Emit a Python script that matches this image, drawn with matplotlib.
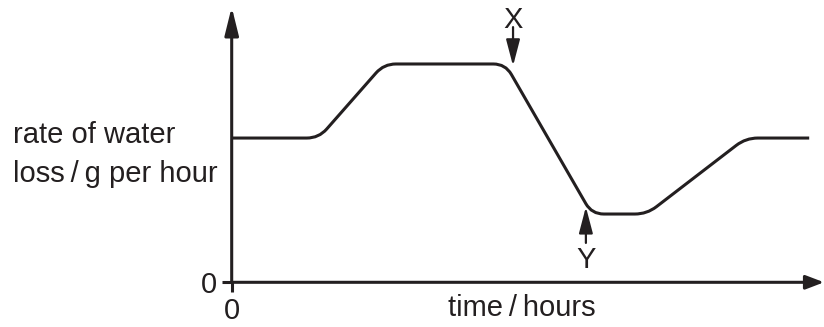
import numpy as np
import matplotlib.pyplot as plt
from matplotlib.path import Path
from matplotlib.patches import PathPatch

# Curve corner points (time in arbitrary hours, rate in arbitrary units)
time = [0, 1.47, 2.57, 4.62, 6.08, 7.01, 8.68, 9.75]
rate = [5.24, 5.24, 7.93, 7.93, 2.48, 2.48, 5.24, 5.24]

# Marked points X and Y: (x, arrow tail y, arrow tip y, label y)
mark_x = [4.75, 9.27, 7.86, 9.24]
mark_y = [5.98, 1.43, 2.74, 0.52]

INK = '#231f20'
plt.rcParams['font.family'] = ['Liberation Sans', 'DejaVu Sans']


def rounded_path(ax, xs, ys, r=12):
    """
    Build a path through the corner points with rounded corners
    :param r: corner cut-back in pixels
    """
    pts = ax.transData.transform(np.column_stack([xs, ys]))
    verts = [pts[0]]
    codes = [Path.MOVETO]
    for i in range(1, len(pts) - 1):
        p0, p1, p2 = pts[i - 1], pts[i], pts[i + 1]
        d1 = p1 - p0
        d2 = p2 - p1
        l1 = np.hypot(*d1)
        l2 = np.hypot(*d2)
        c = min(r, l1 / 2, l2 / 2)
        verts += [p1 - d1 / l1 * c, p1, p1 + d2 / l2 * c]
        codes += [Path.LINETO, Path.CURVE3, Path.CURVE3]
    verts.append(pts[-1])
    codes.append(Path.LINETO)
    verts = ax.transData.inverted().transform(np.array(verts))
    return Path(verts, codes)


fig = plt.figure(figsize=(8.24, 3.27), dpi=100)
ax = fig.add_axes([231.7 / 824, 1 - 282.3 / 327, 592.3 / 824, 275.3 / 327])
ax.set_xlim(0, 10)
ax.set_ylim(0, 10)
for s in ax.spines.values():
    s.set_visible(False)

# axes drawn as arrows
ax.annotate('', xy=(0, 1), xytext=(0, 0), xycoords='axes fraction',
            arrowprops=dict(arrowstyle='-|>,head_length=1.7,head_width=0.42',
                            mutation_scale=10, lw=2.2, color=INK,
                            shrinkA=0, shrinkB=0), annotation_clip=False)
ax.annotate('', xy=(1, 0), xytext=(0, 0), xycoords='axes fraction',
            arrowprops=dict(arrowstyle='-|>,head_length=1.1,head_width=0.42',
                            mutation_scale=10, lw=2.2, color=INK,
                            shrinkA=0, shrinkB=0), annotation_clip=False)

ax.set_xticks([0])
ax.set_yticks([0])
ax.set_xticklabels(['0'])
ax.set_yticklabels(['0'])
ax.tick_params(direction='out', length=7.2, width=2.2, color=INK,
               labelsize=21, labelcolor=INK, pad=3.5)

# the curve
ax.add_patch(PathPatch(rounded_path(ax, time, rate), fill=False,
                       lw=2.2, edgecolor=INK, capstyle='butt', clip_on=False))

# X and Y markers
for (mx, tail, tip, ly), lab in zip([mark_x, mark_y], ['X', 'Y']):
    ax.annotate('', xy=(mx, tip), xytext=(mx, tail),
                arrowprops=dict(arrowstyle='-|>,head_length=1.6,head_width=0.42',
                                mutation_scale=10, lw=1.6, color=INK,
                                shrinkA=0, shrinkB=0), annotation_clip=False)
    ax.text(mx, ly, lab, ha='center', va='baseline', fontsize=21, color=INK)

# axis labels
fig.text(13 / 824, 1 - 143 / 327, 'rate of water', fontsize=21, color=INK,
         va='baseline', ha='left')
fig.text(13 / 824, 1 - 182 / 327, 'loss\u2009/\u2009g per hour', fontsize=21,
         color=INK, va='baseline', ha='left')
fig.text(521.5 / 824, 1 - 316 / 327, 'time\u2009/\u2009hours', fontsize=21,
         color=INK, va='baseline', ha='center')

fig.savefig('out.png', dpi=100)
